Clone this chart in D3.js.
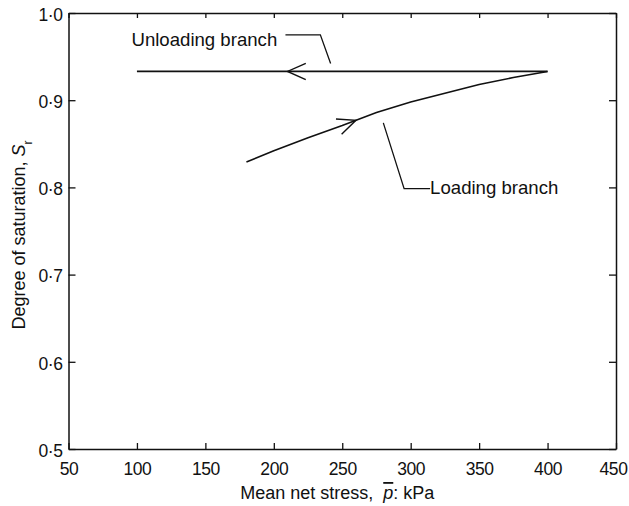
<html>

<head>
    <script src="https://cdn.jsdelivr.net/npm/d3@7/dist/d3.min.js" charset="utf-8"></script>
    <style>
        body { margin: 0; background: #fff; }
        text { font-family: "Liberation Sans", Arial, sans-serif; }
    </style>
</head>

<body>
    <script type="text/javascript">
        // Data
        var unloadP = [100, 400];
        var unloadSr = [0.933, 0.933];

        var loadP = [180, 200, 225, 250, 275, 300, 325, 350, 375, 400];
        var loadSr = [0.829, 0.842, 0.857, 0.871, 0.886, 0.898, 0.908, 0.918, 0.926, 0.933];

        var xTicks = [50, 100, 150, 200, 250, 300, 350, 400, 450];
        var yTicks = [0.5, 0.6, 0.7, 0.8, 0.9, 1.0];

        var width = 629;
        var height = 506;

        var margin = {
            left: 68.5,
            right: 13,
            top: 13,
            bottom: 57
        }

        var ink = "#111";

        const svg = d3.select("body").append("svg")
            .attr("width", width)
            .attr("height", height);

        var xScale = d3.scaleLinear([50, 450], [margin.left, width - margin.right]);
        var yScale = d3.scaleLinear([0.5, 1.0], [height - margin.bottom, margin.top]);

        var fmt = d => d3.format(".1f")(d).replace(".", "\u00B7");

        // axes, ticks pointing inward on all four sides
        var xAxis = d3.axisBottom(xScale).tickValues(xTicks).tickSizeInner(-6).tickSizeOuter(0).tickPadding(14);
        var yAxis = d3.axisLeft(yScale).tickValues(yTicks).tickFormat(fmt).tickSizeInner(-7).tickSizeOuter(0).tickPadding(6);
        var xTop = d3.axisTop(xScale).tickValues(xTicks).tickSizeInner(-5).tickSizeOuter(0).tickFormat("");
        var yRight = d3.axisRight(yScale).tickValues(yTicks).tickSizeInner(-7).tickSizeOuter(0).tickFormat("");

        function styleAxis(g) {
            g.select(".domain").attr("stroke", ink).attr("stroke-width", 1.5);
            g.selectAll(".tick line").attr("stroke", ink).attr("stroke-width", 1.3);
            g.selectAll(".tick text").attr("fill", ink)
                .style("font-size", "17.5px")
                .style("letter-spacing", "-0.4px");
        }

        svg.append("g")
            .attr("transform", `translate(0, ${height - margin.bottom})`)
            .call(xAxis).call(styleAxis)
            .selectAll(".tick text").filter(d => d === 450).attr("dx", -3);

        svg.append("g")
            .attr("transform", `translate(${margin.left}, 0)`)
            .call(yAxis).call(styleAxis)
            .selectAll(".tick text").attr("dy", "0.42em");

        svg.append("g")
            .attr("transform", `translate(0, ${margin.top})`)
            .call(xTop).call(styleAxis);

        svg.append("g")
            .attr("transform", `translate(${width - margin.right}, 0)`)
            .call(yRight).call(styleAxis);

        // curves
        var line = d3.line()
            .x(d => xScale(d[0]))
            .y(d => yScale(d[1]));

        svg.append("path")
            .datum(d3.zip(unloadP, unloadSr))
            .attr("d", line)
            .attr("fill", "none")
            .attr("stroke", ink)
            .attr("stroke-width", 1.6);

        svg.append("path")
            .datum(d3.zip(loadP, loadSr))
            .attr("d", line)
            .attr("fill", "none")
            .attr("stroke", ink)
            .attr("stroke-width", 1.6);

        // open arrowheads sitting on the lines
        function arrowHead(tipP, backP, srAt) {
            var tx = xScale(tipP), ty = yScale(srAt(tipP));
            var bx = xScale(backP), by = yScale(srAt(backP));
            var ang = Math.atan2(by - ty, bx - tx);
            var len = 20, spread = 24 * Math.PI / 180;
            var a1 = [tx + len * Math.cos(ang + spread), ty + len * Math.sin(ang + spread)];
            var a2 = [tx + len * Math.cos(ang - spread), ty + len * Math.sin(ang - spread)];
            svg.append("path")
                .attr("d", `M${a1[0]},${a1[1]}L${tx},${ty}L${a2[0]},${a2[1]}`)
                .attr("fill", "none")
                .attr("stroke", ink)
                .attr("stroke-width", 1.4);
        }

        var unloadAt = d3.scaleLinear(unloadP, unloadSr);
        var loadAt = d3.scaleLinear(loadP, loadSr);

        arrowHead(210, 230, unloadAt);
        arrowHead(260, 240, loadAt);

        // annotation leaders
        var leader = d3.line().x(d => xScale(d[0])).y(d => yScale(d[1]));

        svg.append("path")
            .attr("d", leader([[208.5, 0.975], [234, 0.975], [241.5, 0.942]]))
            .attr("fill", "none").attr("stroke", ink).attr("stroke-width", 1.3);

        svg.append("text")
            .attr("x", xScale(202.5))
            .attr("y", yScale(0.9625))
            .attr("text-anchor", "end")
            .attr("fill", ink)
            .style("font-size", "18.6px")
            .text("Unloading branch");

        svg.append("path")
            .attr("d", leader([[280, 0.874], [295.2, 0.7985], [314.2, 0.7985]]))
            .attr("fill", "none").attr("stroke", ink).attr("stroke-width", 1.3);

        svg.append("text")
            .attr("x", xScale(314.2))
            .attr("y", yScale(0.792))
            .attr("fill", ink)
            .style("font-size", "18.6px")
            .text("Loading branch");

        // axis titles
        var xt = svg.append("text")
            .attr("x", (margin.left + width - margin.right) / 2 - 5)
            .attr("y", 499)
            .attr("text-anchor", "middle")
            .attr("fill", ink)
            .style("font-size", "18px");
        xt.append("tspan").text("Mean net stress,\u00A0 ");
        xt.append("tspan").style("font-style", "italic").style("text-decoration", "overline").text("p");
        xt.append("tspan").text(": kPa");

        var yt = svg.append("text")
            .attr("transform", `translate(25, ${(margin.top + height - margin.bottom) / 2 + 4}) rotate(-90)`)
            .attr("text-anchor", "middle")
            .attr("fill", ink)
            .style("font-size", "18px");
        yt.append("tspan").text("Degree of saturation, ");
        yt.append("tspan").style("font-style", "italic").text("S");
        yt.append("tspan").attr("baseline-shift", "sub").style("font-size", "12px").text("r");
    </script>
</body>

</html>
